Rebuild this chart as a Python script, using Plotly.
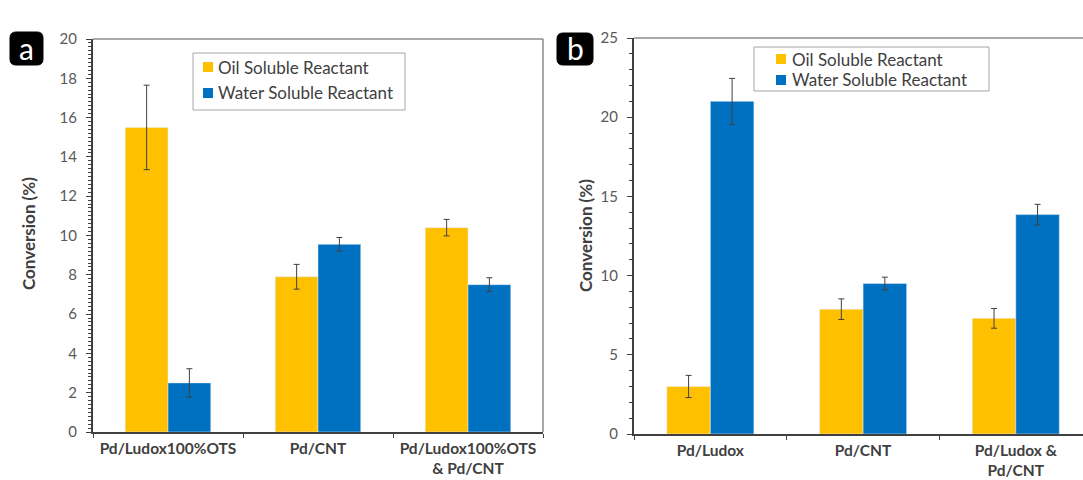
import plotly.graph_objects as go

# ---------------- data ----------------
categories_a = ["Pd/Ludox100%OTS", "Pd/CNT", "Pd/Ludox100%OTS<br>& Pd/CNT"]
oil_a = [15.5, 7.9, 10.4]
oil_a_err = [2.15, 0.63, 0.42]
water_a = [2.5, 9.55, 7.5]
water_a_err = [0.72, 0.35, 0.35]

categories_b = ["Pd/Ludox", "Pd/CNT", "Pd/Ludox &<br>Pd/CNT"]
oil_b = [3.0, 7.88, 7.3]
oil_b_err = [0.7, 0.65, 0.62]
water_b = [21.0, 9.5, 13.85]
water_b_err = [1.45, 0.4, 0.65]

series_names = ["Oil Soluble Reactant", "Water Soluble Reactant"]
panel_labels = ["a", "b"]
y_title = "Conversion (%)"

# ---------------- style ----------------
W, H = 1083, 480
OIL = "#FFC000"
WATER = "#0070C0"
DARK = "#404040"
TICKC = "#595959"
FRAME = "#8c8c8c"
FONT = "Lato, 'Noto Sans', sans-serif"


def xp(px):
    return px / W


def yp(py):
    return 1 - py / H


fig = go.Figure()

err_style = dict(type="data", visible=True, color=DARK, thickness=1, width=3)

fig.add_trace(go.Bar(x=categories_a, y=oil_a, name=series_names[0], marker_color=OIL,
                     error_y=dict(array=oil_a_err, **err_style), xaxis="x", yaxis="y",
                     showlegend=False))
fig.add_trace(go.Bar(x=categories_a, y=water_a, name=series_names[1], marker_color=WATER,
                     error_y=dict(array=water_a_err, **err_style), xaxis="x", yaxis="y",
                     showlegend=False))
fig.add_trace(go.Bar(x=categories_b, y=oil_b, name=series_names[0], marker_color=OIL,
                     error_y=dict(array=oil_b_err, **err_style), xaxis="x2", yaxis="y2",
                     showlegend=False))
fig.add_trace(go.Bar(x=categories_b, y=water_b, name=series_names[1], marker_color=WATER,
                     error_y=dict(array=water_b_err, **err_style), xaxis="x2", yaxis="y2",
                     showlegend=False))

xcommon = dict(type="category", showline=True, linecolor=DARK, linewidth=2,
               ticks="outside", ticklen=4, tickcolor=DARK, tickson="boundaries",
               showgrid=False, zeroline=False, automargin=False, tickangle=0,
               tickfont=dict(family=FONT, size=15.5, color=DARK, weight="bold"),
               ticklabelstandoff=1)
ycommon = dict(showline=True, linecolor=DARK, linewidth=2, ticks="outside", ticklen=5,
               tickcolor=DARK, showgrid=False, zeroline=False, automargin=False,
               tickfont=dict(family=FONT, size=15, color=TICKC), ticklabelstandoff=6)

fig.update_layout(
    width=W, height=H,
    margin=dict(l=0, r=0, t=0, b=0, pad=0, autoexpand=False),
    paper_bgcolor="white", plot_bgcolor="white",
    barmode="group", bargap=0.43, bargroupgap=0,
    showlegend=False,
    font=dict(family=FONT),
    xaxis=dict(domain=[xp(93), xp(543)], anchor="y", range=[-0.5, 2.5], **xcommon),
    yaxis=dict(domain=[yp(432), yp(39)], anchor="x", range=[0, 20], dtick=2,
               minor=dict(dtick=0.2, ticks="outside", ticklen=3, tickcolor=DARK),
               **ycommon),
    xaxis2=dict(domain=[xp(634), 1.0], anchor="y2", range=[-0.5, 2.44], **xcommon),
    yaxis2=dict(domain=[yp(434), yp(38)], anchor="x2", range=[0, 25], dtick=5,
                minor=dict(dtick=1, ticks="outside", ticklen=3, tickcolor=DARK),
                **ycommon),
)

shapes = []
# frame lines (top/right of panel a, top of panel b)
shapes.append(dict(type="line", xref="x domain", yref="y domain", x0=0, x1=1, y0=1, y1=1,
                   line=dict(color=FRAME, width=1.5)))
shapes.append(dict(type="line", xref="x domain", yref="y domain", x0=1, x1=1, y0=0, y1=1,
                   line=dict(color=FRAME, width=1.5)))
shapes.append(dict(type="line", xref="x2 domain", yref="y2 domain", x0=0, x1=1, y0=1, y1=1,
                   line=dict(color=FRAME, width=1.5)))


def rounded_box(x0, y0, x1, y1, r):
    # pixel coords -> paper path
    def P(x, y):
        return f"{xp(x):.5f},{yp(y):.5f}"
    return ("M " + P(x0 + r, y0) + " L " + P(x1 - r, y0) + " Q " + P(x1, y0) + " " + P(x1, y0 + r)
            + " L " + P(x1, y1 - r) + " Q " + P(x1, y1) + " " + P(x1 - r, y1)
            + " L " + P(x0 + r, y1) + " Q " + P(x0, y1) + " " + P(x0, y1 - r)
            + " L " + P(x0, y0 + r) + " Q " + P(x0, y0) + " " + P(x0 + r, y0) + " Z")


label_boxes = [(10, 32, 43, 65), (557, 33, 593, 65)]
for (bx0, by0, bx1, by1) in label_boxes:
    shapes.append(dict(type="path", xref="paper", yref="paper",
                       path=rounded_box(bx0, by0, bx1, by1, 6),
                       fillcolor="black", line=dict(color="black", width=1)))

# legends
legends = [
    dict(box=(193, 53, 405, 110), sq_x=203, text_x=216, rows=[67, 93]),
    dict(box=(754, 47, 989, 91), sq_x=776, text_x=790, rows=[59, 80]),
]
colors = [OIL, WATER]
annotations = []
for lg in legends:
    bx0, by0, bx1, by1 = lg["box"]
    shapes.append(dict(type="rect", xref="paper", yref="paper",
                       x0=xp(bx0), x1=xp(bx1), y0=yp(by1), y1=yp(by0),
                       line=dict(color="#a6a6a6", width=1), fillcolor="white"))
    for name, col, ry in zip(series_names, colors, lg["rows"]):
        shapes.append(dict(type="rect", xref="paper", yref="paper",
                           x0=xp(lg["sq_x"]), x1=xp(lg["sq_x"] + 10),
                           y0=yp(ry + 5), y1=yp(ry - 5),
                           line=dict(width=0), fillcolor=col))
        annotations.append(dict(text=name, xref="paper", yref="paper",
                                x=xp(lg["text_x"]), y=yp(ry), xanchor="left", yanchor="middle",
                                showarrow=False,
                                font=dict(family=FONT, size=17, color=DARK)))

# panel letters
for lab, (bx0, by0, bx1, by1) in zip(panel_labels, label_boxes):
    annotations.append(dict(text=lab, xref="paper", yref="paper",
                            x=xp((bx0 + bx1) / 2), y=yp((by0 + by1) / 2 - 1),
                            xanchor="center", yanchor="middle", showarrow=False,
                            font=dict(family=FONT, size=30, color="white")))

# y titles
for tx, ty in [(28, 234), (585, 236)]:
    annotations.append(dict(text="<b>" + y_title + "</b>", xref="paper", yref="paper",
                            x=xp(tx), y=yp(ty), xanchor="center", yanchor="middle",
                            textangle=-90, showarrow=False,
                            font=dict(family=FONT, size=17, color=DARK)))

fig.update_layout(shapes=shapes, annotations=annotations)

fig.write_html("out.html")
